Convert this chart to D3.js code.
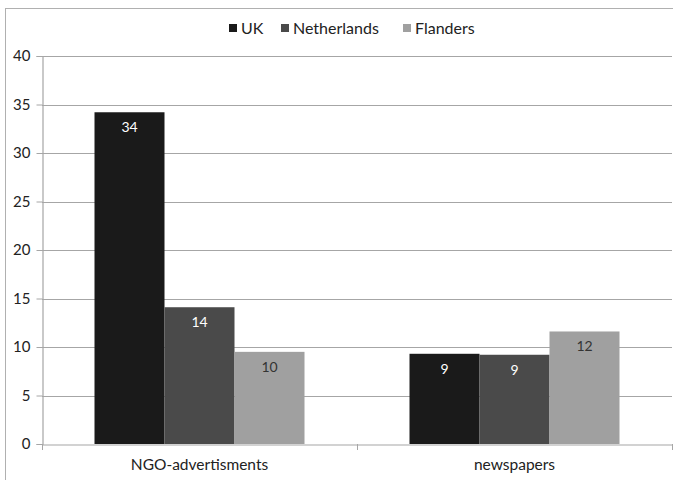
<!DOCTYPE html>
<html><head><meta charset="utf-8">
<script src="https://cdn.jsdelivr.net/npm/d3@7"></script>
<style>body{margin:0;background:#fff}svg{display:block;font-family:Lato,"Open Sans",sans-serif}</style>
</head><body><svg id="c" width="673" height="480"></svg>
<script>
const categories = ["NGO-advertisments", "newspapers"];
const seriesNames = ["UK", "Netherlands", "Flanders"];
const ukValues = [34.2, 9.3];
const netherlandsValues = [14.1, 9.2];
const flandersValues = [9.5, 11.6];
const yTicks = [0, 5, 10, 15, 20, 25, 30, 35, 40];
const colors = ["#1a1a1a", "#4a4a4a", "#a0a0a0"];
const labelColors = ["#ffffff", "#ffffff", "#333333"];
const seriesValues = [ukValues, netherlandsValues, flandersValues];

const svg = d3.select("#c");
svg.append("rect").attr("x", 5.5).attr("y", 8.5).attr("width", 680).attr("height", 490)
  .attr("fill", "#fff").attr("stroke", "#b0b0b0");

const L = 42, R = 672, T = 56, B = 444;
const x0 = d3.scaleBand().domain(categories).range([L, R]).paddingInner(0).paddingOuter(0);
const y = d3.scaleLinear().domain([0, 40]).range([B, T]);
const groupFrac = 3 / 4.5;
const x1 = d3.scaleBand().domain(seriesNames).range([0, x0.bandwidth() * groupFrac]);

// gridlines
svg.append("g").selectAll("line").data(yTicks.filter(d => d > 0)).join("line")
  .attr("x1", L).attr("x2", R).attr("y1", d => Math.round(y(d)) + 0.5).attr("y2", d => Math.round(y(d)) + 0.5)
  .attr("stroke", "#a6a6a6").attr("stroke-width", 1.2);

// bars
const groups = svg.append("g").selectAll("g").data(categories).join("g")
  .attr("transform", c => `translate(${x0(c) + x0.bandwidth() * (1 - groupFrac) / 2},0)`);
seriesNames.forEach((s, si) => {
  groups.append("rect")
    .attr("x", x1(s)).attr("width", x1.bandwidth())
    .attr("y", (c, ci) => y(seriesValues[si][ci]))
    .attr("height", (c, ci) => B - y(seriesValues[si][ci]))
    .attr("fill", colors[si]);
  groups.append("text")
    .attr("x", x1(s) + x1.bandwidth() / 2)
    .attr("y", (c, ci) => y(seriesValues[si][ci]) + 20)
    .attr("text-anchor", "middle").attr("font-size", 14)
    .attr("fill", labelColors[si])
    .text((c, ci) => d3.format(".0f")(seriesValues[si][ci]));
});

// y axis
const yAxis = d3.axisLeft(y).tickValues(yTicks).tickSize(6).tickPadding(6);
const ya = svg.append("g").attr("transform", `translate(${L + 0.5},0)`).call(yAxis);
ya.select(".domain").attr("stroke", "#a6a6a6").attr("stroke-width", 1.2);
ya.selectAll(".tick line").attr("stroke", "#a6a6a6");
ya.selectAll(".tick text").attr("font-size", 15).attr("fill", "#222").attr("font-family", "Lato, 'Open Sans', sans-serif");

// x axis
const xa = svg.append("g").attr("transform", `translate(0,${B + 0.5})`)
  .call(d3.axisBottom(x0).tickSize(0).tickPadding(14));
xa.select(".domain").attr("stroke", "#a6a6a6").attr("stroke-width", 1.2);
xa.selectAll(".tick text").attr("font-size", 15.5).attr("fill", "#222").attr("font-family", "Lato, 'Open Sans', sans-serif");
svg.append("g").selectAll("line").data([L, x0(categories[1]), R]).join("line")
  .attr("x1", d => d + 0.5).attr("x2", d => d + 0.5).attr("y1", B).attr("y2", B + 6)
  .attr("stroke", "#a6a6a6");

// legend
const legendX = [229, 281, 403];
const lg = svg.append("g").selectAll("g").data(seriesNames).join("g")
  .attr("transform", (d, i) => `translate(${legendX[i]},28)`);
lg.append("rect").attr("x", 0).attr("y", -4).attr("width", 8).attr("height", 8).attr("fill", (d, i) => colors[i]);
lg.append("text").attr("x", 12).attr("y", 5.5).attr("font-size", 16).attr("fill", "#222").text(d => d);
</script></body></html>
